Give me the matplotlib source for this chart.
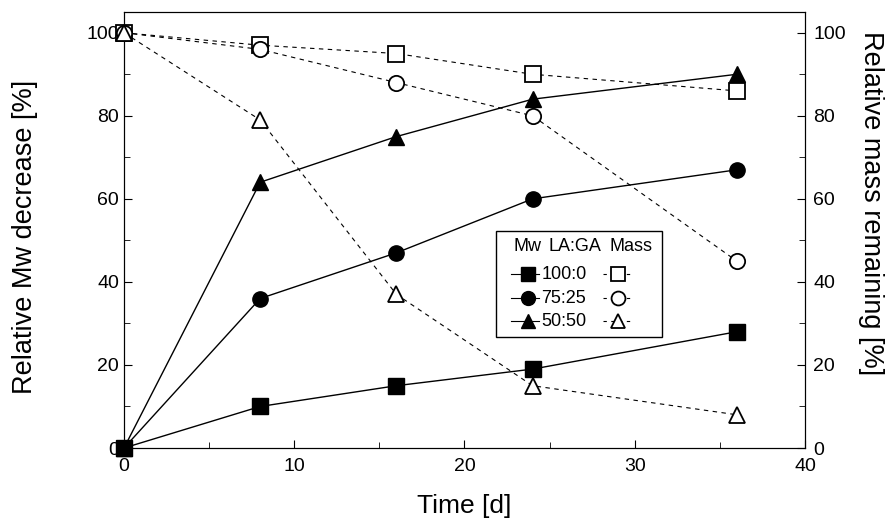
import matplotlib

matplotlib.use("Agg")
import matplotlib.pyplot as plt  # noqa: E402
from matplotlib.lines import Line2D  # noqa: E402
from matplotlib.patches import Rectangle  # noqa: E402
from matplotlib.ticker import MultipleLocator  # noqa: E402

plt.rcParams["font.family"] = ["Liberation Sans", "DejaVu Sans"]

days = [0, 8, 16, 24, 36]
ratios = ["100:0", "75:25", "50:50"]
markers = ["s", "o", "^"]

# relative Mw decrease [%]
mw_100 = [0, 10, 15, 19, 28]
mw_75 = [0, 36, 47, 60, 67]
mw_50 = [0, 64, 75, 84, 90]

# relative mass remaining [%]
mass_100 = [100, 97, 95, 90, 86]
mass_75 = [100, 96, 88, 80, 45]
mass_50 = [100, 79, 37, 15, 8]

mw_series = [mw_100, mw_75, mw_50]
mass_series = [mass_100, mass_75, mass_50]

fig = plt.figure(figsize=(8.94, 5.19), dpi=100)
ax = fig.add_axes([0.1387, 0.1368, 0.7617, 0.8401])
ax2 = ax.twinx()

for ys, m in zip(mw_series, markers):
    ax.plot(days, ys, color="black", lw=1.0, marker=m, ms=11,
            mfc="black", mec="black", clip_on=False, zorder=3)
for ys, m in zip(mass_series, markers):
    ax2.plot(days, ys, color="black", lw=0.8, ls=(0, (4, 4)), marker=m, ms=11,
             mfc="white", mec="black", mew=1.3, clip_on=False, zorder=3)

for a in (ax, ax2):
    a.set_xlim(0, 40)
    a.set_ylim(0, 105)
    a.yaxis.set_major_locator(MultipleLocator(20))
    a.yaxis.set_minor_locator(MultipleLocator(10))
    a.tick_params(which="both", direction="in", labelsize=14)
    a.tick_params(which="major", length=6)
    a.tick_params(which="minor", length=4)
ax2.tick_params(axis="y", pad=6)
ax.xaxis.set_major_locator(MultipleLocator(10))
ax.xaxis.set_minor_locator(MultipleLocator(5))
ax.tick_params(axis="x", pad=7)

ax.set_xlabel("Time [d]", fontsize=19, labelpad=14)
fig.text(25 / 894, 1 - 237 / 519, "Relative Mw decrease [%]", fontsize=19.5,
         rotation=90, ha="center", va="center")
fig.text(871 / 894, 1 - 203 / 519, "Relative mass remaining [%]", fontsize=19.5,
         rotation=270, ha="center", va="center")

# hand-built legend box
ax2.add_patch(Rectangle((0.546, 0.255), 0.244, 0.243, transform=ax2.transAxes,
                        fill=False, lw=1.0, ec="black", zorder=4))
hy = 0.461
ax2.text(0.592, hy, "Mw", transform=ax2.transAxes, ha="center", va="center", fontsize=13)
ax2.text(0.662, hy, "LA:GA", transform=ax2.transAxes, ha="center", va="center", fontsize=13)
ax2.text(0.745, hy, "Mass", transform=ax2.transAxes, ha="center", va="center", fontsize=13)
for ry, m, lab in zip([0.399, 0.344, 0.291], markers, ratios):
    ax2.add_line(Line2D([0.568, 0.610], [ry, ry], transform=ax2.transAxes, color="black",
                        lw=0.8, zorder=4))
    ax2.add_line(Line2D([0.593], [ry], transform=ax2.transAxes, marker=m, ms=10,
                        color="black", ls="none", zorder=5))
    ax2.text(0.613, ry, lab, transform=ax2.transAxes, ha="left", va="center", fontsize=13)
    ax2.add_line(Line2D([0.704, 0.746], [ry, ry], transform=ax2.transAxes, color="black",
                        lw=0.8, ls=(0, (3, 4)), zorder=4))
    ax2.add_line(Line2D([0.725], [ry], transform=ax2.transAxes, marker=m, ms=10,
                        mfc="white", mec="black", mew=1.3, ls="none", zorder=5))

fig.savefig("out.png", dpi=100)
